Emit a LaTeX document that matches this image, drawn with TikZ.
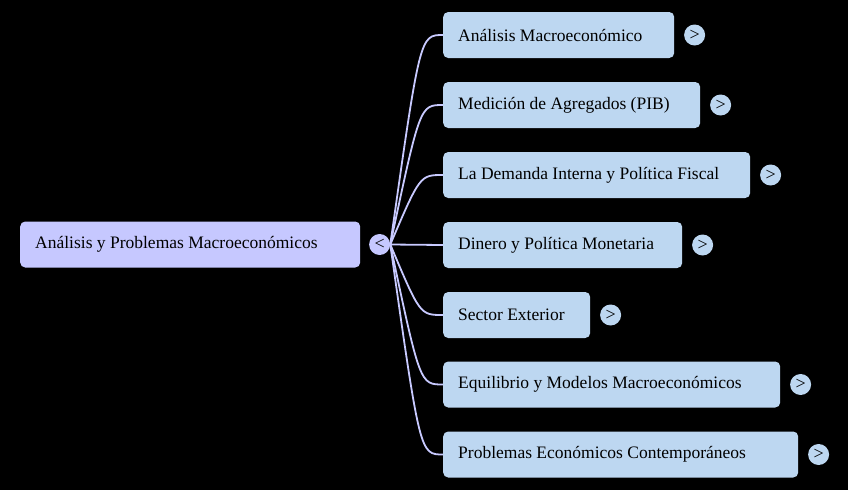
\documentclass[tikz,border=0pt]{standalone}
\usepackage{fontspec}
\setmainfont{Liberation Serif}
\usetikzlibrary{positioning}
\definecolor{rootfill}{HTML}{C6C8FF}
\definecolor{leaffill}{HTML}{BDD7F1}
\definecolor{linkcol}{HTML}{C8CAFF}
\tikzset{
  topicbox/.style={rounded corners=5pt, minimum height=46pt, inner xsep=15pt, anchor=west, align=flush left, font=\fontsize{17.5}{20}\selectfont},
  foldmark/.style={circle, minimum size=21pt, inner sep=0pt, font=\fontsize{18}{20}\selectfont},
  link/.style={draw=linkcol, line width=1.8pt}
}
\begin{document}
\begin{tikzpicture}[x=1pt,y=-1pt]
    \fill[black] (0,0) rectangle (848,490);
    \useasboundingbox (0,0) rectangle (848,490);
    % root
    \node[topicbox, fill=rootfill, text width=310pt] (root) at (20,244.5) {Análisis y Problemas Macroeconómicos};
    \node[foldmark, fill=rootfill, right=8.5pt of root] (rootfold) {<};
    % branches
    \node[topicbox, fill=leaffill, text width=201pt] (m1) at (443,35) {Análisis Macroeconómico};
    \node[topicbox, fill=leaffill, text width=227pt] (m2) at (443,105) {Medición de Agregados (PIB)};
    \node[topicbox, fill=leaffill, text width=277pt] (m3) at (443,175) {La Demanda Interna y Política Fiscal};
    \node[topicbox, fill=leaffill, text width=209pt] (m4) at (443,245) {Dinero y Política Monetaria};
    \node[topicbox, fill=leaffill, text width=117pt] (m5) at (443,315) {Sector Exterior};
    \node[topicbox, fill=leaffill, text width=307pt] (m6) at (443,384.5) {Equilibrio y Modelos Macroeconómicos};
    \node[topicbox, fill=leaffill, text width=325pt] (m7) at (443,454.5) {Problemas Económicos Contemporáneos};
    \node[foldmark, fill=leaffill, right=9.5pt of m1] (f1) {>};
    \node[foldmark, fill=leaffill, right=9.5pt of m2] (f2) {>};
    \node[foldmark, fill=leaffill, right=9.5pt of m3] (f3) {>};
    \node[foldmark, fill=leaffill, right=9.5pt of m4] (f4) {>};
    \node[foldmark, fill=leaffill, right=9.5pt of m5] (f5) {>};
    \node[foldmark, fill=leaffill, right=9.5pt of m6] (f6) {>};
    \node[foldmark, fill=leaffill, right=9.5pt of m7] (f7) {>};
    % links
    \draw[link] (rootfold.east) .. controls ([xshift=-23pt]m1.west) .. (m1.west);
    \draw[link] (rootfold.east) .. controls ([xshift=-23pt]m2.west) .. (m2.west);
    \draw[link] (rootfold.east) .. controls ([xshift=-23pt]m3.west) .. (m3.west);
    \draw[link] (rootfold.east) -- (m4.west);
    \draw[link] (rootfold.east) .. controls ([xshift=-23pt]m5.west) .. (m5.west);
    \draw[link] (rootfold.east) .. controls ([xshift=-23pt]m6.west) .. (m6.west);
    \draw[link] (rootfold.east) .. controls ([xshift=-23pt]m7.west) .. (m7.west);
\end{tikzpicture}
\end{document}
